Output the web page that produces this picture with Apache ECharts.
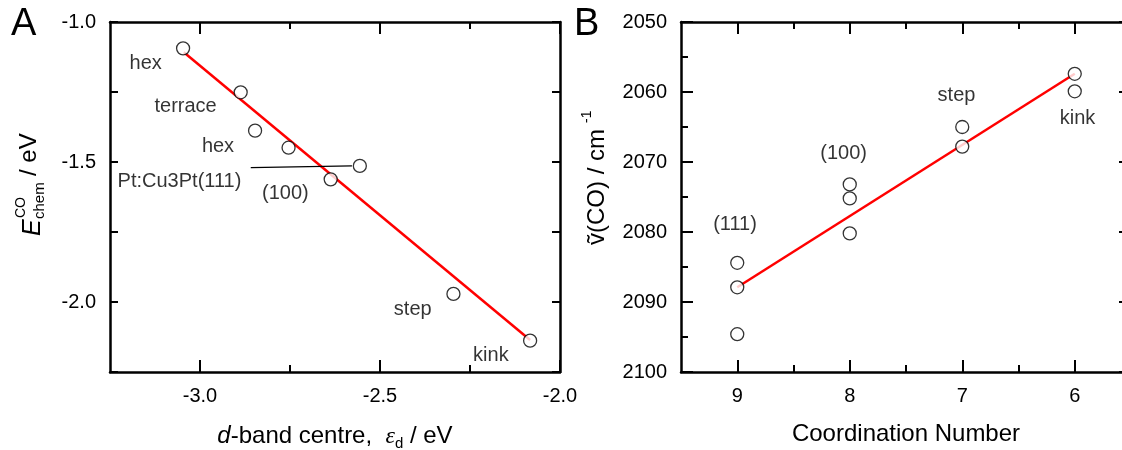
<!DOCTYPE html>
<html>
<head>
<meta charset="utf-8">
<script src="https://cdn.jsdelivr.net/npm/echarts@6/dist/echarts.min.js"></script>
<style>
  html, body { margin: 0; padding: 0; background: #fff; }
  #chart { width: 1122px; height: 450px; }
</style>
</head>
<body>
<div id="chart"></div>
<script>
// Panel A: CO chemisorption energy vs d-band centre
const aDband = [-3.047, -2.887, -2.847, -2.754, -2.556, -2.637, -2.296, -2.083];
const aEnergy = [-1.094, -1.251, -1.388, -1.449, -1.514, -1.562, -1.971, -2.138];
const aFitX = [-3.045, -2.083];
const aFitY = [-1.108, -2.136];
const aLeaderX = [-2.859, -2.578];
const aLeaderY = [-1.520, -1.514];
const aLabels = ['hex', 'terrace', 'hex', 'Pt:Cu3Pt(111)', '(100)', 'step', 'kink'];
const aLabelX = [-3.151, -3.040, -2.950, -3.057, -2.763, -2.409, -2.192];
const aLabelY = [-1.148, -1.303, -1.443, -1.569, -1.613, -2.025, -2.192];
const aTicks = [-3.0, -2.5, -2.0];
const aMinorTicks = [-2.75, -2.25];
const aYLabels = [-2.0, -1.5, -1.0];

// Panel B: CO stretching frequency vs coordination number
const bCoord = [9, 9, 9, 8, 8, 8, 7, 7, 6, 6];
const bFreq = [2084.4, 2087.9, 2094.6, 2073.2, 2075.2, 2080.2, 2065.0, 2067.8, 2057.4, 2059.9];
const bFitX = [9, 6];
const bFitY = [2087.9, 2057.4];
const bLabels = ['(111)', '(100)', 'step', 'kink'];
const bLabelX = [9.02, 8.054, 7.051, 5.975];
const bLabelY = [2078.9, 2068.8, 2060.5, 2063.8];
const bTicks = [9, 8, 7, 6];
const bMinorTicks = [8.5, 7.5, 6.5];

const FONT = '"Liberation Sans", Arial, sans-serif';
const zip = (xs, ys) => xs.map((x, i) => [x, ys[i]]);

const frameLine = { show: true, onZero: false, lineStyle: { color: '#000', width: 2.5 } };
const tickLabel = { fontSize: 20, color: '#000', fontFamily: FONT };

function xAxes(grid, min, max, inverse, major, minor, name, nameRich) {
    const base = { type: 'value', gridIndex: grid, min, max, inverse, splitLine: { show: false } };
    return [
        Object.assign({}, base, {
            position: 'bottom',
            axisLine: frameLine,
            axisTick: { inside: true, length: 12, customValues: major, lineStyle: { color: '#000', width: 2 } },
            axisLabel: Object.assign({ customValues: major, margin: 14,
                formatter: v => inverse ? String(v) : v.toFixed(1) }, tickLabel),
            name,
            nameLocation: 'middle',
            nameGap: 50,
            nameTextStyle: { fontSize: 24, color: '#000', fontFamily: FONT, rich: nameRich },
        }),
        Object.assign({}, base, {
            position: 'bottom',
            axisLine: { show: false },
            axisTick: { inside: true, length: 7, customValues: minor, lineStyle: { color: '#000', width: 2 } },
            axisLabel: { show: false },
        }),
        Object.assign({}, base, {
            position: 'top',
            axisLine: frameLine,
            axisTick: { inside: true, length: 12, customValues: major, lineStyle: { color: '#000', width: 2 } },
            axisLabel: { show: false },
        }),
        Object.assign({}, base, {
            position: 'top',
            axisLine: { show: false },
            axisTick: { inside: true, length: 7, customValues: minor, lineStyle: { color: '#000', width: 2 } },
            axisLabel: { show: false },
        }),
    ];
}

const chart = echarts.init(document.getElementById('chart'), null, { renderer: 'canvas' });

const labelSeries = (xIdx, yIdx, names, xs, ys) => ({
    type: 'scatter',
    xAxisIndex: xIdx,
    yAxisIndex: yIdx,
    symbolSize: 1,
    itemStyle: { color: 'rgba(0,0,0,0)' },
    silent: true,
    z: 5,
    label: {
        show: true,
        position: 'inside',
        formatter: p => names[p.dataIndex],
        fontSize: 20,
        color: '#000',
        textBorderWidth: 0,
        fontFamily: FONT,
    },
    data: zip(xs, ys),
});

const circleStyle = { color: '#fff', borderColor: '#000', borderWidth: 1.3 };

chart.setOption({
    backgroundColor: '#fff',
    animation: false,
    textStyle: { fontFamily: FONT },
    grid: [
        { left: 110, top: 22, width: 450, height: 350, outerBoundsMode: 'none' },
        { left: 681, top: 22, width: 450, height: 350, outerBoundsMode: 'none' },
    ],
    xAxis: [].concat(
        xAxes(0, -3.25, -2.0, false, aTicks, aMinorTicks,
            '{i|d}-band centre,  {e|\u03b5}{sub|d} / eV',
            {
                i: { fontSize: 24, fontStyle: 'italic', fontFamily: FONT, color: '#000' },
                e: { fontSize: 24, fontStyle: 'italic', fontFamily: '"Liberation Serif", serif', color: '#000' },
                sub: { fontSize: 15, fontFamily: FONT, color: '#000', padding: [14, 0, 0, 0] },
            }),
        xAxes(1, 5.5, 9.5, true, bTicks, bMinorTicks, 'Coordination Number', {})
    ),
    yAxis: [
        {
            type: 'value', gridIndex: 0, min: -2.25, max: -1.0, interval: 0.25, position: 'left',
            axisLine: frameLine,
            axisTick: { inside: true, length: 8, lineStyle: { color: '#000', width: 2 } },
            axisLabel: Object.assign({ customValues: aYLabels, margin: 14, formatter: v => v.toFixed(1) }, tickLabel),
            splitLine: { show: false },
        },
        {
            type: 'value', gridIndex: 0, min: -2.25, max: -1.0, interval: 0.25, position: 'right',
            axisLine: frameLine,
            axisTick: { inside: true, length: 8, lineStyle: { color: '#000', width: 2 } },
            axisLabel: { show: false },
            splitLine: { show: false },
        },
        {
            type: 'value', gridIndex: 1, min: 2050, max: 2100, interval: 10, inverse: true, position: 'left',
            axisLine: frameLine,
            axisTick: { inside: true, length: 12, lineStyle: { color: '#000', width: 2 } },
            minorTick: { show: true, splitNumber: 2, length: 7, lineStyle: { color: '#000', width: 2 } },
            axisLabel: Object.assign({ margin: 14, formatter: v => String(v) }, tickLabel),
            splitLine: { show: false },
            minorSplitLine: { show: false },
        },
        {
            type: 'value', gridIndex: 1, min: 2050, max: 2100, interval: 10, inverse: true, position: 'right',
            axisLine: frameLine,
            axisTick: { inside: true, length: 12, lineStyle: { color: '#000', width: 2 } },
            minorTick: { show: true, splitNumber: 2, length: 7, lineStyle: { color: '#000', width: 2 } },
            axisLabel: { show: false },
            splitLine: { show: false },
        },
    ],
    graphic: [
        { type: 'text', left: 11, top: 6, style: { text: 'A', font: '38px ' + FONT, fill: '#000' } },
        { type: 'text', left: 574, top: 6, style: { text: 'B', font: '38px ' + FONT, fill: '#000' } },
        {
            type: 'group', x: 30, y: 236, rotation: Math.PI / 2,
            children: [
                { type: 'text', x: 0, y: 3, style: { text: 'E', font: 'italic 25px ' + FONT, fill: '#000', align: 'left', verticalAlign: 'middle', textAlign: 'left', textVerticalAlign: 'middle' } },
                { type: 'text', x: 17, y: 10, style: { text: 'chem', font: '15px ' + FONT, fill: '#000', align: 'left', verticalAlign: 'middle', textAlign: 'left', textVerticalAlign: 'middle' } },
                { type: 'text', x: 18, y: -9, style: { text: 'CO', font: '14px ' + FONT, fill: '#000', align: 'left', verticalAlign: 'middle', textAlign: 'left', textVerticalAlign: 'middle' } },
                { type: 'text', x: 60, y: -1, style: { text: '/ eV', font: '24px ' + FONT, fill: '#000', align: 'left', verticalAlign: 'middle', textAlign: 'left', textVerticalAlign: 'middle' } },
            ],
        },
        {
            type: 'group', x: 597, y: 245, rotation: Math.PI / 2,
            children: [
                { type: 'text', x: 0, y: 0, style: { text: '\u1e7d(CO) / cm', font: '24px ' + FONT, fill: '#000', align: 'left', verticalAlign: 'middle', textAlign: 'left', textVerticalAlign: 'middle' } },
                { type: 'text', x: 122, y: -10, style: { text: '-1', font: '14px ' + FONT, fill: '#000', align: 'left', verticalAlign: 'middle', textAlign: 'left', textVerticalAlign: 'middle' } },
            ],
        },
    ],
    series: [
        {
            type: 'line', xAxisIndex: 0, yAxisIndex: 0, showSymbol: false, silent: true, z: 2,
            lineStyle: { color: '#ff0000', width: 2.5 },
            data: zip(aFitX, aFitY),
        },
        {
            type: 'line', xAxisIndex: 0, yAxisIndex: 0, showSymbol: false, silent: true, z: 2,
            lineStyle: { color: '#000', width: 1.3 },
            data: zip(aLeaderX, aLeaderY),
        },
        {
            type: 'scatter', xAxisIndex: 0, yAxisIndex: 0, symbol: 'circle', symbolSize: 13, z: 3,
            itemStyle: circleStyle,
            data: zip(aDband, aEnergy),
        },
        labelSeries(0, 0, aLabels, aLabelX, aLabelY),
        {
            type: 'line', xAxisIndex: 4, yAxisIndex: 2, showSymbol: false, silent: true, z: 2,
            lineStyle: { color: '#ff0000', width: 2.5 },
            data: zip(bFitX, bFitY),
        },
        {
            type: 'scatter', xAxisIndex: 4, yAxisIndex: 2, symbol: 'circle', symbolSize: 13, z: 3,
            itemStyle: circleStyle,
            data: zip(bCoord, bFreq),
        },
        labelSeries(4, 2, bLabels, bLabelX, bLabelY),
    ],
});
</script>
</body>
</html>
